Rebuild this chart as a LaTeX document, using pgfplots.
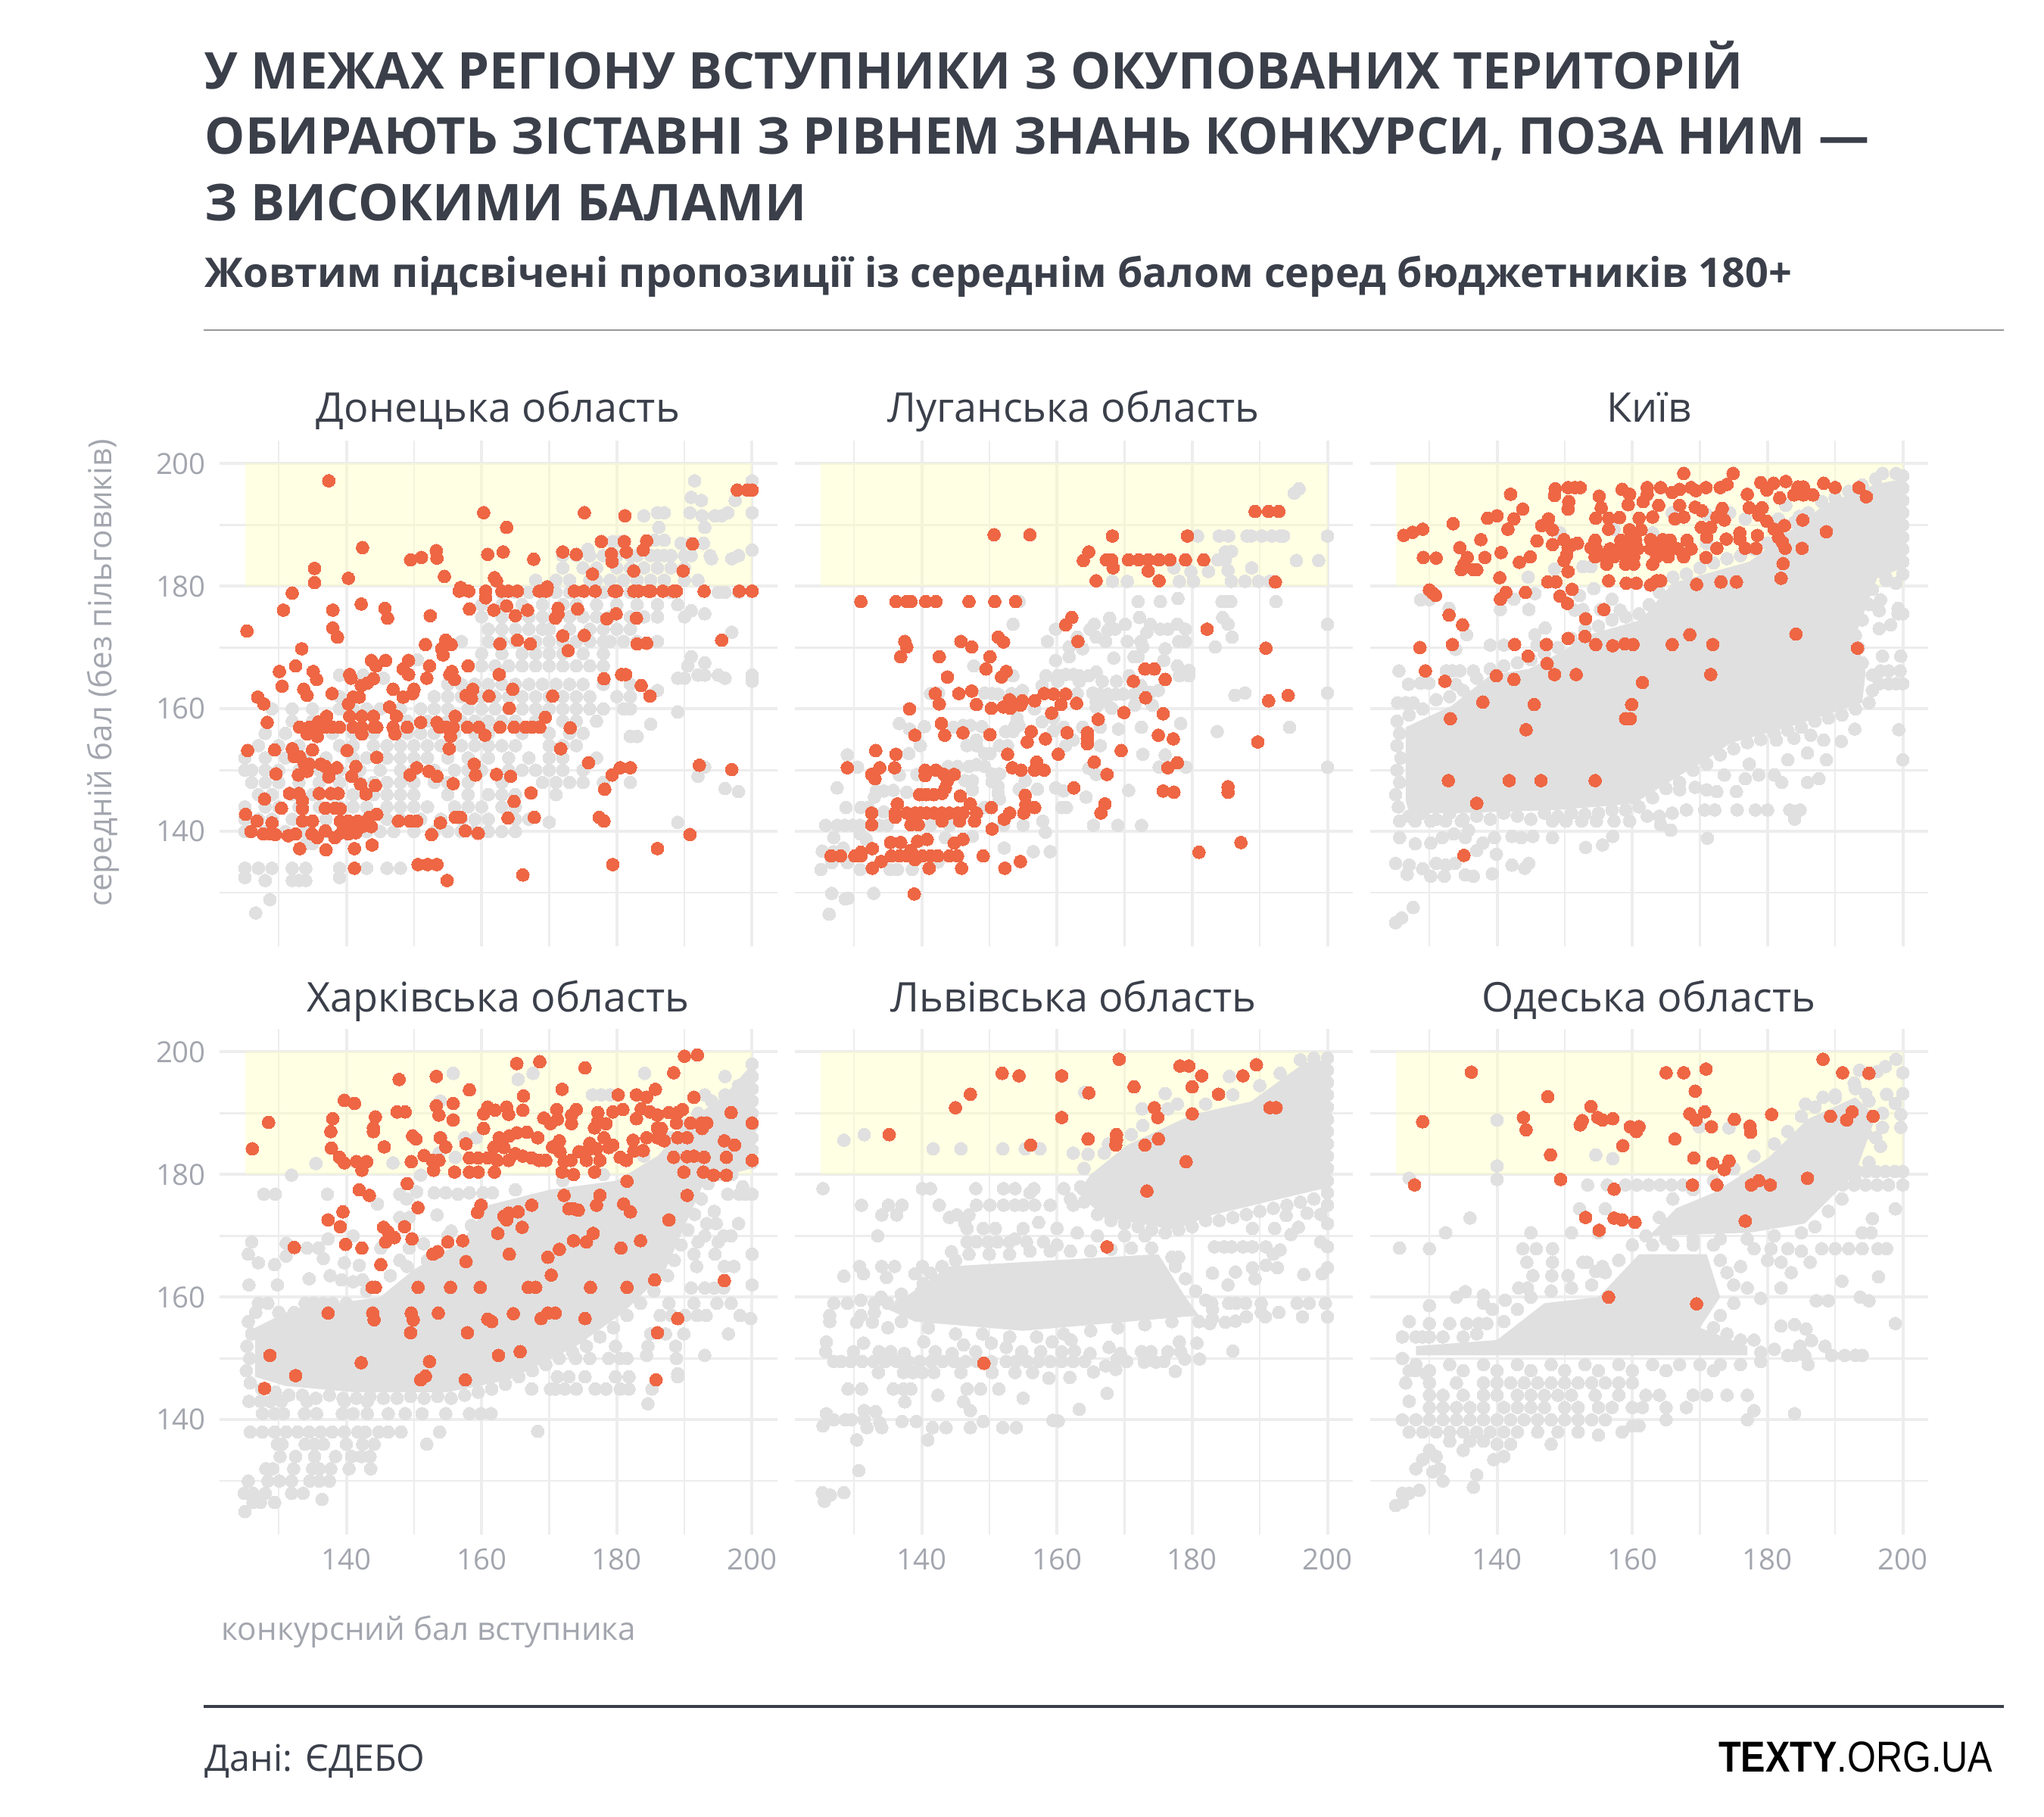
\documentclass[border=0pt]{standalone}
\usepackage{fontspec}
\usepackage{graphicx}
\usepackage{pgfplots}
\pgfplotsset{compat=1.18}
\setmainfont{Open Sans}
\newfontfamily\logofont{Liberation Sans}
\definecolor{ink}{HTML}{3A3F4A}
\definecolor{muted}{HTML}{A3A6AE}
\definecolor{gridc}{HTML}{EDEDED}
\definecolor{dotgray}{HTML}{E0E0E0}
\definecolor{dotred}{HTML}{EE6643}
\definecolor{hl}{HTML}{FFFFBE}
\pgfplotsset{panel/.style={
  scale only axis, width=184.25pt, height=167pt, anchor=south west,
  xmin=121.25, xmax=203.75, ymin=121.25, ymax=203.75,
  xtick={140,160,180,200}, ytick={140,160,180,200},
  minor xtick={130,150,170,190}, minor ytick={130,150,170,190},
  grid=both,
  major grid style={gridc, line width=1pt},
  minor grid style={gridc, line width=0.65pt},
  axis line style={draw=none}, tick style={draw=none},
  tick label style={font=\fontsize{9.6}{10}\selectfont, text=muted},
  /pgf/number format/assume math mode=true,
  /pgf/number format/1000 sep={},
  xticklabel style={yshift=-1pt},
  yticklabel style={xshift=-1pt},
  clip=false,
},
gdot/.style={only marks, color=dotgray, mark=*, mark size=2.1pt, mark options={fill=dotgray, draw=dotgray, line width=0pt}},
rdot/.style={only marks, color=dotred, mark=*, mark size=2.1pt, mark options={fill=dotred, draw=dotred, line width=0pt}},
core/.style={fill=dotgray, draw=none, forget plot},
}
\newcommand{\band}{\addplot[draw=none, fill=hl, fill opacity=0.41] coordinates {(125,180) (200,180) (200,200) (125,200)} --cycle;}
\begin{document}
\begin{tikzpicture}
\path[use as bounding box] (0,0) rectangle (675pt,-600pt);
% Донецька
\begin{axis}[panel, at={(72.5pt,-312.5pt)}, xticklabels={}]
\band
\addplot[gdot] table {
191.5 197.2
200 197.2
191 194.5
192.5 194
197.5 194
184 191.5
186 192
187 192
190.8 192
192.6 191.5
194.5 191.5
195.5 191.5
196.4 192
200 192
186.2 189.6
193 189.6
179.4 187.3
180.5 187.3
185.6 187.5
187 187.5
189.5 187
191 187
192.8 187
175.7 186
200 185.9
198 185
197 184.5
193.8 185
172 185
174 185
176 185
178 185
180 185
182 185
183 185
185 185
186 185
187 185
188 185
190 185
191 185
194 184.5
172 183
175 183
177 183
180 183
182 183
184 183
186 183
188 183
190 183
168 181
171 181
173 181
176 181
177 181
179 181
181 181
183 181
185 181
187 181
190 181
192 181
163 179
165 179
167 179
169 179
171 179
173 179
178 179
182 179
188 179
195 179
196 179
198 179
160 177
163 177
166 177
169 177
172 177
174 177
177 177
180 177
183 177
186 177
189 177
190 175
160 175
163 175
167 175
169 175
171 175
173 175
175 175
177 175
179 175
182 175
184 175
186 175
191 176
193 175.5
161 173
163 173
165 173
167 173
169 173
170 173
173 173
176 173
178 173
180 173
182 173
197 172.5
157 171
161 171
163 171
165 171
168 171
170 171
172 171
174 171
176 171
178 171
179 171
181 171
183 171
186 171
160 169
163 169
166 169
168 169
170 169
172 169
175 169
178 169
191 168.5
150.5 168
158 167
160 167
162 167
164 167
166 167
168 167
170 167
172 167
174 167
176 167
178 167
190.5 167
193 167.5
139 165.5
142.5 165.5
145.5 165
155 164
157 164
159 164
161 164
163 164
165 164
167 164
169 164
171 164
173 164
175 164
178 164
182 164
189 165
190 165
192 165.5
193 165.5
195 165.5
196 165
200 165.5
200 164.5
139 162
153 162
155 162
157 162
160 162
162 162
164 162
166 162
168 162
170 162
172 162
174 162
176 162
180 162
182 162
186 163
129 160
132 160
135 160
139 160
141 160
143 160
145 160
148 160
151 160
153 160
155 160
158 160
160 160
162 160
164 160
166 160
168 160
170 160
172 160
174 160
176 160
178 160
181 160
182 160
189 159.5
132 158
135 158
137 158
149 158
152 158
155 158
157 158
159 158
161 158
163 158
165 158
168 158
172 158
174 158
177 158
185 157.5
128 156
131 156
138 156
141 156
144 156
149 156
151 156
153 156
156 156
159 156
161 156
166 156
170 156
173 156
175 156
182 155.5
183 155.5
127 154
130 154
133 154
139 154
141 154
144 154
146 154
148 154
150 154
152 154
154 154
157 154
159 154
161 154
163 154
165 154
170 154
172 154
174 154
125 152
128 152
131 152
134 152
137 152
141 152
143 152
146 152
148 152
150 152
152 152
155 152
158 152
161 152
164 152
167 152
170 152
172 152
177 152
125 150
126 150
128 150
130 150
133 150
136 150
139 150
142 150
145 150
148 150
150 150
153 150
156 150
158 150
160 150
164 150
166 150
168 150
170 150
172 150
175 150
193 150.5
126 148
128 148
130 148
133 148
136 148
139 148
142 148
144 148
146 148
148 148
150 148
153 148
155 148
158 148
163 148
169 148
171 148
173 148
175 148
178 148
182 148
192 149
127 146
129 146
132 146
135 146
138 146
141 146
144 146
146 146
148 146
150 146
155 146
158 146
161 146
163 146
165 146
171 146
196 147
198 146.5
125 144
128 144
130 144
133 144
136 144
139 144
141 144
143 144
146 144
148 144
150 144
152 144
156 144
158 144
160 144
163 144
165 144
125 142
127 142
129 142
132 142
137 142
143 142
146 142
148 142
151 142
154 142
157 142
159 142
161 142
165 142
167 142
170 141.5
125 140
128 140
131 140
134 140
137 140
140 140
143 140
145 140
147 140
150 140
153 140
155 140
157 140
159 140
161 140
163 140
165 140
189 141.5
134 138
135 138
125 134
127 134
129 134
132 134
134 134
139 134
143 134
146 134
148 134
125 132.5
128 132
132 132
133 132
134 132
139 132.5
128.7 128.9
126.6 126.7
};
\addplot[rdot] table {
137.4 197.2
160.3 192
175.2 192
181.2 191.5
163.7 189.6
142.4 186.3
177.7 187.3
181.1 187.3
184.4 187.4
153.3 185.8
153.4 184.6
151.1 184.7
149.5 184.3
160.9 185.2
163.2 185.6
167.7 184.4
172 185.6
174 185.2
179.2 185.3
179.3 184
181.4 185.6
183.9 185.9
191.2 186.9
135.3 182.9
135.3 180.6
140.3 181.3
154.5 181.6
161.9 181.4
162.2 180.9
176.4 182
182.5 182.5
189.8 182.5
156.7 179.2
158.1 179.2
160.6 179.2
163 179.2
164 179.2
165.3 179.2
168.5 179.2
169.6 179.2
173.7 179.2
175.1 179.2
176.8 179.2
179.6 179.2
180 179.2
182.5 179.2
183.2 179.2
184.7 179.2
185 179.2
186.8 179.2
188.4 179.2
188.8 179.2
192.9 179.2
198.1 179.2
200 179.2
156.9 179.8
160.6 178.1
169.7 179.9
197.8 195.7
199.3 195.7
200 195.7
132 178.9
130.7 176.1
138 176.1
142.2 177.1
145.7 176.4
146.1 174.8
152.4 175.2
158.2 176.3
161.8 176.1
163.7 176.8
165 175.2
166.8 176.1
171.3 176.4
171.3 175.5
170.9 174.8
174.2 176.3
178.5 174.7
179.9 175.5
182.9 174.8
125.3 172.7
138 173.2
138.7 171.7
172 171.9
175.2 172
195.5 171.2
151.7 170.5
154.7 171.2
155.5 170.5
154.1 169.8
154.3 168.8
162.7 170.6
165.3 171.2
167.2 170.6
183 170.6
184.4 170.7
133.4 169.8
172.8 169.5
143.7 167.9
145.8 167.9
144.4 167
132.5 167
149.2 167.9
148.4 166.5
149.2 165.6
152.3 167
158 167
130.1 166.1
135.1 166.1
135.6 164.8
140.5 165.6
140.7 165
151.9 165
155.3 165.6
155.6 166.1
156 164.8
162.6 165.6
178.1 164.9
180.7 165.6
181.3 165.6
183.6 163.8
130.5 163.7
144 164.9
142.2 163.8
143.1 164.2
133.7 163.2
134.2 162.2
146.9 163.2
150 163.2
149.8 162.5
148.4 161.9
158.7 163.2
157.7 162.2
158.5 161.7
161.1 162.1
164.6 163.2
170.5 162.1
184.9 162.1
126.9 161.9
127.8 160.8
137.9 162.5
141 161.9
141.9 161.9
140.3 160.8
146.4 160.3
164.1 160.1
128.3 157.8
137.1 158.8
135.9 157.9
140.5 158.8
142.3 158.8
144 158.8
147.4 158.8
156.1 158.8
169.4 158.6
133.1 157
134.5 157
135.9 157
136.9 157
137.9 157
139 157
141 157
142.3 157
144.1 157
144.5 157
146.9 157
149 157
151 157.8
153.4 157.8
153.8 157
154.8 157
155.8 157
157.9 157
159.6 157
162.7 157
164.8 157
166.5 157
167.5 157
168.6 157
173.1 156.9
134.2 155.9
135.7 155.5
142.3 155.9
147.2 155.9
155.4 155.5
160.5 155.7
125.4 153.2
129.4 153.3
132 153.5
135 153.3
140.1 153.2
155.2 153.5
171.7 153.5
132.3 152.2
133.1 152.2
144.5 152.1
133.8 151
134.5 151
136.2 151
136.9 150.6
138.6 150.4
141.4 150.6
158.9 151
175.8 151.2
150.4 150.4
180.5 150.4
182 150.4
192.2 150.8
197 150.1
134.2 149.8
132.9 149.2
129.6 149.4
137.4 148.9
140.8 149
149.4 149.2
152.2 149.8
153.4 149
159.1 149.2
162.2 149.3
164.3 149
179.3 149.2
142.1 147.7
144.3 147.5
155.8 147.8
178.2 146.9
131.6 146.2
133 146.2
136 146.2
137.7 146.2
138.8 146.2
142.9 146.1
167.3 146.3
127.9 145.3
133.5 145
164.8 144.9
130.4 143.8
133.5 143.7
136.9 143.8
138.3 143.8
139.1 143.7
125.1 142.8
144.5 142.8
143.4 142.3
126.8 141.7
129 141.4
133.5 141.7
135 141.7
139.1 141.7
140.3 141.7
141.7 141.7
147.7 141.7
149.4 141.7
150.4 141.7
153.9 141.4
156.1 142.3
156.9 142.3
163.9 142.2
167.8 142.3
177.4 142.3
178.1 141.7
143.7 140.8
125.9 140
127.7 139.6
128.7 139.6
129.5 139.5
131.4 139.3
132.5 139.6
134.9 139.6
135.7 139
136.9 140.1
138.3 139
139.3 139.8
140.3 139.6
141.4 139.8
140.7 140.8
142.4 140.8
152.6 139.5
157.6 140.1
159.5 139.7
190.8 139.5
133.1 137.2
137 137
141.2 137.2
143.8 137.8
186 137.2
141.2 134
150.6 134.6
152 134.6
153.4 134.6
179.4 134.6
166.1 132.9
154.9 132
};
\end{axis}
% Луганська
\begin{axis}[panel, at={(262.5pt,-312.5pt)}, xticklabels={}, yticklabels={}]
\band
\addplot[gdot] table {
195.8 195.9
195.1 195.2
180.8 188.2
184 188.2
185.4 188.2
188.1 188.2
188.7 188.2
190.3 188.2
191.8 188.2
193 188.2
193.5 188.2
200 188.2
185.8 185.7
184.9 185.6
183.8 184.3
184.9 184.3
195.4 184.2
198.7 184.2
177.3 183
179.8 182.4
182.4 182.4
185.3 182.6
188.8 183
168.2 180.8
170.4 180.8
178.1 180.8
180.2 180.8
185.8 180.8
187.8 180.8
189.8 180.8
191.5 180.8
154.4 177.5
172 177.5
175.3 177.5
177.9 178
184.4 177.5
185.3 177.5
185.7 177.5
192.4 177.5
153.5 173.8
200 173.8
167.8 174.8
172.2 174.9
184.5 174.9
185.3 173.8
170.1 173.8
165.5 173.8
159.8 173
164.9 173
167.5 172.8
168.6 173
173.3 172.5
173.8 173.8
175.3 173
176.4 173
177.8 173.8
179 173
185.9 171.7
165.8 171.7
167.2 171
170.4 171
172.4 171
178 171
179 171
158.6 171
163 171.7
161.8 170.1
163.8 169.8
172.7 170.1
176 169.8
183.4 170.1
161.8 168.5
159.8 167.9
168.4 168.3
171.4 168.5
172 168.5
175.8 167.9
147.7 167
177.8 167
179.5 166.3
153.5 165.4
158.4 165.4
160.1 165.4
161.3 165.6
162.4 165.6
163.3 165.4
164.7 165.4
165.8 166
178.1 165.4
179.5 165.4
170.7 165.4
160.1 164.5
163.3 164.5
166.7 164.5
168.8 164.5
172.4 163.8
175 163
173.8 162.7
141.3 162.5
142.5 162.6
149.3 162.6
150.4 162.5
151.3 162.4
153.3 162.5
154.9 163
157.8 163.8
163 162.5
165.3 162.6
166.4 162.4
167.5 162.4
168.7 162.4
169.8 162.4
171.4 162.4
186.3 162.2
187.8 162.6
200 162.6
165.8 161.2
167.3 161.2
156.7 160
165.8 160.3
168.1 160.1
171.5 160.6
174.1 160.6
154.1 158.5
157.8 157.9
159.5 158.5
153.8 157.3
154.4 157.3
136.7 157.6
140.4 157.1
138.2 156.7
144.7 157
146.1 157.3
147.2 157.3
148.9 157.1
178.3 157.6
183.7 156.3
194.4 157
172.5 157
169.1 156.7
166.4 157
163.8 157
161 157
159.5 156.4
152.4 156.3
153.5 156.3
148.1 154.9
139.8 154
146.7 154
148.1 154
151.5 154
152.7 154
161.3 154
162.4 154.9
166.4 154
149.3 152.7
150.1 152.7
138.1 152.7
129 152.5
172.7 152.6
176 152.5
130.5 150.5
136.7 149.2
139.3 149.3
143.9 150.6
145.3 150.6
147 150.6
148.1 150.9
149.3 150.6
150.4 149.4
151.5 149.4
164.7 150.3
165.8 149.3
175.1 150.5
179.1 150.5
200 150.5
146.4 148.3
147.5 148.3
150.4 148.1
151.3 147.4
155.3 148.3
127.5 147.1
133.3 146.6
134.4 146.6
135.8 146.7
137.8 146.4
147.5 146.8
151.3 146.2
154.4 146.9
157.1 146.9
159.8 147.1
161 146.6
170.6 146.7
164.3 145.6
133 145.6
151.5 145.3
128.8 143.9
131 143.9
132.1 143.9
149.3 143.9
160.7 143.9
161.4 143.9
134.4 143.2
125.8 141
127.5 141
128.6 141
129.8 141
130.9 141
133.8 141
134.9 141
141.3 141
144.1 141
152.1 141
155 141
157.9 141.7
165.4 141
169 141
172.5 141
130.9 139.6
131.8 138.7
127 139
147.5 139.2
143.5 139
158.3 139.9
125.3 136.8
127 136.7
128.4 137.3
152.2 137.3
156.5 136.7
159 136.7
125.1 133.8
126.7 134.9
129 134.9
130.9 133.8
135.3 133.8
136.4 133.8
138.6 133.8
142.4 135
126.7 129.9
128.7 129
129.1 129.1
132.9 129.9
126.3 126.5
};
\addplot[rdot] table {
189.3 192.2
191.3 192.2
192.8 192.2
150.7 188.4
156 188.4
168.2 188.2
179.3 188.2
164.7 185.6
163.9 184.2
167.3 184.3
168.1 184.3
168.3 183
170.6 184.3
172.1 184.3
173.5 184.3
175.1 184.3
176.7 184.3
179 184.3
181.7 184.3
173.5 182.5
165.8 180.9
175.1 180.9
192.3 180.7
131 177.5
136.2 177.5
137.8 177.5
138.4 177.5
140.6 177.5
142.1 177.5
147 177.5
150.8 177.5
153.9 177.5
162.2 174.9
161.3 173.7
182.2 173
137.5 171
137.8 170.1
136.9 168.5
145.8 171
147.4 170.1
151.3 171.7
152.1 170.9
163.1 171
190.9 169.9
142.6 168.5
150.1 168.5
149.5 166.5
152.5 166.1
151.8 165.2
143.8 165.2
173 166.5
174.4 166.5
176 164.8
171.3 164.5
142 162.5
145.5 162.5
147.4 162.9
158.1 162.5
159.5 162.4
161.3 162.4
153 161.5
154.9 161.3
156.7 161.3
173.1 161.8
194.2 162.2
191.3 161.3
142.6 160.8
148.1 160.7
150.3 160.1
152.1 160.3
153.1 160.1
154.6 160.6
160.6 160.7
162.9 160.9
138.2 160
159.2 159.3
169.9 159.4
175.7 159.2
166.1 158.3
142.9 157.6
139 155.7
143.4 155.7
146.1 156.1
150.1 155.8
156.2 156.3
161.5 156.1
164.5 156.1
164.5 155.2
164.5 154.3
155.6 154.6
158.3 155.1
175 155.7
177.2 155.1
189.7 154.6
133.2 153.2
136.2 152.6
152.7 152.6
160.2 152.6
169.5 153.2
129 150.4
133.8 150.4
136 150.4
165.5 151.3
177.8 151.2
176.4 150.4
153.4 150.4
154.7 150
157 151.3
156.7 150
158.1 150
132.6 149.3
133.1 148.6
140.5 150
142.1 150
140.5 149.1
143.3 149.3
144.8 149.3
143.8 148.3
167.4 149.3
143.5 147.1
162.5 147.1
175.7 146.6
177.3 146.4
185.3 147.3
185.3 146.4
139.7 146
140.7 146
141.8 146
143 146.2
145.7 145.8
155.3 145.9
136.4 144.5
147.2 144.5
155.4 144.4
167.1 144.5
156.7 143.9
150.3 143.9
132.6 143
136.1 143
137.8 143
139 143
139.8 143
140.7 143
141.8 143
143 143
144.1 143
145.3 143
146.1 143
148.1 143
153 143
155.1 143
166.5 143
132.6 141.1
136.1 142.3
138.4 141.1
139.5 141.1
143 141.7
145.6 141.7
147.8 141.7
152.2 142
150.4 140.4
140.8 138.7
139.4 138.4
135.4 138.2
136.9 138.2
144.8 138.1
146.1 138.7
187.2 138.2
181 136.6
132.7 137.2
131 136.6
138.4 136.9
126.6 136
128 136
130.1 136
131 136
135.5 136
136.7 136
137.8 136
139 136
140.1 136
141.3 136
142.4 136
144.1 136
145.3 136
149.1 136
134 135.1
154.6 135.1
132.7 134
141.1 134
145.9 134
152.3 134
139 135.4
138.9 129.8
};
\end{axis}
% Київ
\begin{axis}[panel, at={(452.5pt,-312.5pt)}, xticklabels={}, yticklabels={}]
\band
\addplot[core] coordinates {(126.5,145) (126.5,157) (133.3,160.5) (139,165.5) (144.7,166.5) (149.9,169.5) (153.3,172) (161.3,174.5) (165.9,180.5) (177.3,184) (188.7,193.5) (196.2,196.7) (200,197.5) (200,183) (196.2,181.3) (193,172) (194.5,166) (194,161) (188.7,159) (183,157) (174.5,154.4) (170.5,151.4) (165.9,148.4) (160.2,144.5) (148.7,143.5) (134.5,143) (127,143)} --cycle;
\addplot[gdot] table {
125.4 144
125 146
125.6 148
125.2 150
125.8 152
125.2 154
125.6 156
125.2 158
127 159
129 160
131 161.5
133 162
135 163
137 165
139 166.5
141 167
143 167.5
145 168
147 169
149 170
151 171.5
153 173
155 173.5
157 174.5
159 175
161 175.5
162.5 177
164 179
166 181.5
168 182
170 183
172 183.8
174 184.5
176 185
178 186
180 187
182 189
184 190.5
186 192
188 193.8
190 194.5
192 195.5
194 196.5
196 197.5
127 142.5
129 143
131 142
133 143
135 142
137 142.5
139 142
141 143
143 142.5
145 142
147 143
149 142.5
151 143
153 142.8
155 143
157 143.5
159 143.5
161 144
163 145.5
165 147
167 148
169 150
171 151
173 152.5
175 153.5
177 154.5
179 155
181 156
183 156.5
185 157
187 158
189 158.5
191 159
193 160
195 161
195.5 163
195.5 165.5
194 167.5
193.5 170
193 172
194 174.5
195 177
195.5 179.5
197.5 181.5
200 198
200 196
200 194
200 192
200 190
200 188
200 186
200 184
200 182
199 180.5
197.5 181
197 198.4
199 198.4
184.7 191.4
182.7 193.2
181.6 191
176.7 191
174.4 192
171 191.7
171 187
165.9 192
163 188.7
157.3 189.3
153.9 183.2
152.7 183.2
149.3 188.7
148.5 182.8
144.6 181.5
145.6 178.8
154.3 179.6
152.2 178.5
142.5 177.9
140.5 176.2
144.7 176.2
128.7 177.8
130 177.8
132.9 176.4
157 177.9
151.5 176.1
152.7 176.2
155.3 176.2
158.2 176.1
135.5 172.1
145.6 172.1
147.1 173.2
133.9 169.7
139 170.4
141 170.4
145.9 170.4
125.5 166.2
132.5 166.2
133.4 166.2
134.5 166.2
136.5 166.2
126.9 164
128.7 164.2
129.9 164.2
133.9 164
125.3 161
126.5 161
127.6 161
125.6 141.7
127.9 141.7
130.2 141.7
132.4 141.7
134.7 141.7
148.2 141.7
150.2 141.7
152.5 141.7
154.7 141.7
157.3 141.7
159.6 141.7
162.2 142.5
164 142.5
165.9 143
168 143.5
170.7 143.5
172.2 143.5
175.5 143.5
178.2 143.5
180 143.5
183.3 143.5
184.8 143.5
184 142
164.2 141.1
165.7 140.2
171.1 138.9
157.1 139.2
155.6 137.8
153.1 137.4
148.2 139
142.2 139.2
143.6 139
145.3 139.2
139.6 139
135.8 140.2
135.3 139
125.6 139
127.9 138
130.2 138.1
131.9 139
133.6 139.6
137.9 138.1
137 136.9
139.9 136.3
125 134.8
127 134.5
129 133.9
131 134.8
132.4 134.5
133.8 134.8
126.7 133
130.2 132.7
132.2 132.7
135.3 132.9
136.5 132.7
139.3 133.1
142.2 134.5
144.7 134.8
144.1 134
127.6 127.6
125.9 125.9
125 125.1
167 146.8
169.3 147.2
171 146.8
172.5 146.5
175.4 146.5
178.7 149.2
181 149.2
182.1 148
173.6 149.2
176.7 148.6
185.9 148
187.6 148.6
177.3 151
183 151.7
185.9 152.8
188.7 151.7
200 151.7
199.4 156.6
190.9 154.7
188.3 154.9
181.3 154.9
183.9 155.2
186.4 155.7
192.9 156.7
196.5 164.1
197.9 164.1
199 164.1
200 164.1
196.7 166.2
197.9 166.2
199.6 166.2
197 168.6
199.7 168.6
196.5 173.1
198.2 173.7
196.5 176
196.7 177.8
199.3 175.5
200 175.5
199.3 176.4
};
\addplot[rdot] table {
167.6 198.4
174.9 198.4
142 195
148.6 195.9
148.5 194.8
150.5 196.1
151.5 196.1
152.3 196.1
150.6 193.8
150.5 192.6
155.1 194.7
155.4 192.8
158.5 195.8
159.6 195
159.4 193.3
162.2 196.1
164.2 196.1
161.6 193.8
162.2 195
165.9 195.3
167 195.8
168.7 196.1
169.4 195.6
170.9 196.1
173 196.1
174 196.6
177 195
179 196.9
179.9 195.7
180.9 196.8
182.7 197.1
184.5 196.2
185.3 196.2
181.8 194.4
183.9 194.9
185.3 194.9
186.7 194.9
188.3 196.8
190 196.1
193.5 196.1
194.6 194.6
163.9 193.2
167 193.2
169.3 192.9
170.3 192.3
173.3 192.7
177.3 192.8
179.2 192.8
178.7 191.6
179.9 190.6
143.8 192.6
138.6 191.1
140 191.5
142.5 191
133.5 190.2
147.6 191
146.6 189.9
154.6 191.1
156.5 191.1
158.1 191.2
161 191.1
163 191.3
166.3 191
167.6 191.3
172.5 191.3
173.6 190.8
185.2 190.8
182.5 189.9
126.2 188.3
127.5 188.8
129 189.3
141.6 189.3
148.2 189.2
156.5 189.3
159.6 189.2
161.3 189.2
170.2 189.6
171.6 189.6
181 189.3
188.7 188.9
178.5 188.3
175.9 188.7
137.6 187.6
145.9 187.4
149.9 187.6
154.5 187.5
148.2 186.8
162.7 187.6
164.5 187.6
165.6 187.5
168.1 187.5
158.3 187.5
159.6 187.8
160.5 187.5
171 188
173.9 187.7
175.9 187.7
181.6 188
182.2 187.2
134.5 186.3
140.6 185.5
151 186.7
151.9 187
150.5 186.3
153.9 186.3
154.7 186.1
156.7 186.1
157.9 186.1
159.6 186.1
160.8 186.1
162.7 186.1
163.9 186.1
165.3 186.1
166.7 186.1
168.7 186.1
172.5 186.2
176.7 186.2
178.3 186.2
182.6 186.2
185.1 186.2
129.1 184.7
131 184.6
138.2 184.7
144.9 184.8
135.6 184.7
143.3 183.9
150.3 185.1
149.9 184.2
154.5 184.8
155.9 184.8
157.3 184.8
159 184.8
160.2 184.8
163.6 184.8
165.3 184.8
167.6 184.8
170.9 184.7
182.3 183.7
156.2 183.6
159 183.6
160.2 183.6
163 183.6
135.1 183.6
134.7 182.7
136.5 182.7
137 182.7
150.5 182.4
140.4 181.4
182 181.3
156.5 180.9
147.5 180.7
148.7 180.7
159.1 180.5
160.6 180.5
162.7 180.2
163.6 180.9
164.2 180.9
169.5 180.3
173.1 180.7
175.4 180.7
151.1 179.5
130 179.4
130.5 178.9
130.9 178.5
141.3 179
140.5 177.9
144.2 179
149.3 178.4
150.4 177.2
155.8 176.2
132.9 175.3
153.1 174.7
134.9 173.7
153 171.8
150.5 171.5
168.5 172.1
184.2 172.2
128.6 170
133.4 170.5
142.6 170.5
147.3 170.5
154.6 170.5
157.1 170.3
158.9 170.6
160.1 170.5
165.9 170.5
171.9 170.5
193.3 169.9
144.6 168.6
147.4 167.4
129.4 166.2
148.5 165.6
151.7 165.6
139.9 165.4
142.5 164.8
132.3 164.5
171.6 165.6
161.5 164.3
137.9 161.1
145.5 160.7
159.9 160.7
133.1 158.4
159 158.4
159.7 158.4
144.3 156.6
132.8 148.3
141.8 148.3
146.5 148.3
154.5 148.3
137 144.6
135.1 136.1
};
\end{axis}
% Харківська
\begin{axis}[panel, at={(72.5pt,-506.75pt)}]
\band
\addplot[core] coordinates {(126.5,147) (126.5,155) (132,158) (145,160) (150,164.5) (157,169) (161,175) (170,177.5) (180,179) (186,183) (191,189) (196,193) (200,198) (200,181) (193,179) (189,169) (187,164) (181,157.5) (174,152) (164,146.5) (155,144.5) (141,144.5) (131,145.5)} --cycle;
\addplot[gdot] table {
155.8 196.5
165.4 195.5
167.6 196.5
184.1 196.5
153.9 192
176.4 193
177.7 193
179 193
154 186
153.7 183.5
157.5 186
159.2 186
156.1 182.8
135.5 181.8
146.9 181.9
131.9 179.9
151 179.9
127.8 176.8
129.5 176.8
137.2 176.8
144.6 175.2
147.9 176.8
148.9 176
150.4 177.2
153 177
154.7 177
156.5 176.8
158.2 177
160.2 177
161.6 177
147.9 173
149.3 173
153.4 173.4
158.5 171.7
141 170
137.3 169.5
126 169
125.5 167
127 165.6
131.1 168.8
131.1 166.7
129.4 165.3
134.2 168
135.9 168
136.6 166.3
139.7 165.6
141.9 165.2
145.1 168
147.9 166
149.3 168
151.4 168.7
155.5 170.8
152 166
152 164.5
146.5 163.5
125.6 162
129.8 162
134.5 163
137.6 163.5
139.3 162.8
141 162.5
142.4 162.8
127 159
128.4 159
133.9 159
135.3 159
136.6 159
138 159
140 159
126.6 157.5
130 157.5
132.3 157.5
134 157.5
125.5 156
126 154
125.3 152
125.7 150
125.2 148
125.8 146
127.5 145
129.5 144.5
131.5 144
133.5 144
135.5 143.5
137.5 144
139.5 143.5
141.5 143.5
143.5 143.8
145.5 143.5
147.5 143.5
149.5 143.8
151.5 143.5
153.5 143.8
155.5 143.5
157.5 144
159.5 144.5
161.5 145
163.5 145.8
165.5 147
167.5 148
169.5 149
171.5 150
173.5 151
175.5 152
177.5 153.5
179.5 155
181.5 157
183.5 159
185.5 161
187.5 163.5
188.5 166
189.5 168.5
190.5 171
191.5 173.5
192.5 176
193.5 178.5
195 180
198 194.5
196 193
194 192
192 190
190 188
196 196
193 193
188 186
184 183
178 180
172 179
165 177.5
160 175
155 170
149 165
143 161
135 159
200 198
200 196
200 194
200 192
200 190
200 188
200 186
200 184
200 182
198 182
197 180
125.6 143
127.3 143
128.7 143
130.4 143
134.2 143
139.7 143
143.1 143
127.6 141
129.4 141
130.7 141
133.8 141
135.6 141
139.4 141
141 141
143.1 141
146.2 141
148.7 141
151.2 141
125.8 138
127.6 138
129.4 138
131.1 138
132.8 138
134.5 138
136.2 138
137.9 138
139.7 138
141.7 138
142.8 138
144.8 138
146.2 138
148.1 138
153.8 138
129.8 136
130.5 136
133.9 136
135.3 136
136.6 136
140 136
142.4 136
144.1 136
151.9 136
130.2 134
132.5 134
135.3 134
138.4 134
140.8 134
142.2 134
143.5 134
128.1 132
129.1 132
132.2 132
135 132
136 132
137.7 132
143.6 132
140.4 132
125.5 130
128.4 130
130.1 130
131.9 130
134.6 130
136 130
137.5 130
124.9 128
126.2 128
128 128
131.9 128
133.6 128
136.4 127
126.2 126.5
127.3 126.5
129.4 126.5
125 125
168.3 138.1
154.7 141
158.2 141
159.9 141
161.4 141
184.6 142.6
185.2 145
189 147
193 150.5
184.4 150.5
167.4 145
170.2 145
170.9 145
172.3 145
174 145
176.8 145
178.4 145
180.5 145
181.8 145
171.2 147
172.9 147
175.3 147
179.8 147
181.8 147
189 147.5
173.9 150
176 150
178.8 150
180.5 150
181.5 150
188.8 150
179.8 152
184.6 152
188.7 152
185 154
187.2 154
189.9 154
196.5 154
186.4 157
188.1 157
190.1 157
191.9 157
193.2 157
198.2 157
199.8 156.5
187.7 159
191.4 159
194.8 159
196.9 159
191 161.5
193 161.5
194.4 161.5
195.8 161.5
200 162
191.8 165
195.9 165
197.3 165
191.4 167
194.5 167
200 167
192 169
195 169
193 170
195.8 170
196.9 170
193.3 172
194.7 172
198 172
194.4 174
196.4 176.8
198.1 176.8
199 176.8
199.9 176.8
200 176.8
198.6 178
};
\addplot[rdot] table {
190 199.3
191.9 199.5
165.2 198.1
168.6 198.4
175.3 197.4
188.4 196.6
153.3 196
147.8 195.5
158.2 193.8
171.9 193.9
185.7 193.9
139.7 192.1
141.2 191.6
166.2 192.8
180.2 193
182.9 193
184.4 192.6
191.4 192.6
155.8 191.6
153.3 191.2
153.7 189.7
155.8 188.9
147.5 190.2
148.7 190.2
160.9 191
162 190.5
163.7 191
164 189.8
166.1 190.5
160.3 189.9
160.3 187.5
171.1 190.6
171.2 189
169.2 189.2
170.2 188.3
174 190.6
173.3 189.7
173.3 188.3
177.2 190.1
177.2 188.7
178.4 188.3
176.7 187.6
179.4 190.2
180.9 190.6
183.6 190.7
184.9 190.2
186 189.7
182.9 189.1
187.7 190.1
189.7 190.6
189 190.1
196.9 190.1
200 188.4
188.8 188.4
190.9 188.4
192.5 188.4
193.3 188.4
192.6 187.5
186 187.6
186.6 187.5
138 189.1
137.7 187
128.5 188.5
144.3 189.4
144 187.6
144 187
149.8 186.3
150.3 185.8
153.9 186
157.7 185
162.6 186
164.1 186.3
165.2 186.8
166.7 186.9
168.3 186
171.5 185.5
176 185.1
178.1 186
179.4 184.8
182.4 185.6
184.4 186
186 186
187 185.5
189 186
190.4 186
195.9 185.5
197.4 184.8
126.1 184.2
137.8 184.3
145.6 184.5
154.7 184.5
161.8 184.4
163.3 184.4
170.5 184.5
171.6 183.7
174.4 183.7
175.7 184
177 184.2
178.8 184.4
182.5 183.8
183.9 183.9
151.5 183.1
139 182.8
139.7 181.9
141.5 182.1
143 182.1
142.3 180.7
149.6 182.1
152.7 182.3
153.7 182.3
158.2 182.7
159.5 182.7
160.9 182.7
162.3 182.3
164 182.3
165 183.4
166.1 183
167.4 182.7
168.5 182.3
169.5 182.3
172.2 182.1
173.2 182.3
175.5 182.3
177.5 182.3
180.5 182.8
181.4 182.3
188.4 182.8
190.4 182.9
191.4 183
192.9 182.8
196.2 182.8
200 182.3
152.9 180.7
156 180.4
158.2 180.4
159.5 180.4
161.9 180.4
171.9 180.4
173.6 180
176.7 180.4
189.9 180.4
192.8 180.4
194.3 179.9
196.2 179.9
149 178.5
181.5 178.9
141.9 177.5
143.4 176.6
172.2 176.6
177.5 176.6
190.4 176.6
150.6 174.6
139.5 173.9
159.9 175
159.4 173.8
167.4 175
172.9 174.4
173.6 174.4
174.3 174.2
177 175
181 175.2
182 173.9
163.3 173.2
164 173.7
165.4 173.9
163.7 172.6
137.3 172.6
187.7 172.6
139.1 171.5
145.5 171.4
148.6 171.5
166 171.4
146.2 170.6
147.1 169.7
145.8 169
162.4 170.4
176.5 170.4
149.7 169.5
155 169
157.2 169.2
173.6 169.2
175.5 169
183.5 169.2
139.9 168.6
132.3 168.1
142.3 168
171.5 167.8
180.6 168
152.8 167
153.5 167.4
164.1 167
169.8 166.5
157.7 165.8
145.1 165.3
170.3 163.6
185.6 162.8
195.9 162.7
143.8 161.6
144.3 161.6
150.6 161.6
155.4 161.6
159.8 161.6
166.9 161.6
168 161.6
176.1 161.6
181.5 161.6
137.3 157.4
143.9 157.4
144.1 156.3
149.6 157.4
149.9 156.3
153.6 157.4
164.7 157.3
160.9 156.4
161.5 156
169.8 157.4
170.9 157.4
168.8 156.5
175.3 156.5
189 156.5
149.5 154.2
157.9 154.2
186 154.2
128.7 150.5
162.5 150.5
165.7 151.1
142.2 149.3
152.3 149.5
132.5 147.2
151 146.5
151.7 147.1
157.6 146.5
185.8 146.5
127.9 145.1
};
\end{axis}
% Львівська
\begin{axis}[panel, at={(262.5pt,-506.75pt)}, yticklabels={}]
\band
\addplot[core] coordinates {(165,180) (170.4,184.8) (180.1,189.8) (188.7,191.9) (196.7,198.3) (200,198.6) (200,177) (199,177.6) (183,173.4) (177.3,171) (167,173) (163,177)} --cycle;
\addplot[core] coordinates {(144,165) (175,167) (179,160) (181,157) (155,154.5) (139,156) (135,158)} --cycle;
\addplot[gdot] table {
128.5 185.6
131.5 186.5
141.7 184.2
145.8 184.2
152 184.2
155.3 184.2
157.5 184.2
162.4 183.5
164.6 183.3
164.1 193.4
176 193.2
185.5 196
172.6 190.7
176.4 190.7
177.8 191.5
172.7 188
171 186.5
167.6 185
167 183.5
182 191.5
186 193
190 194.5
193 196.5
196 198.7
198 199
200 199
200 197
200 195
200 193
200 191
200 189
200 187
200 185
200 183
200 181
200 179
200 177
200 175
199 173.5
164 181
165.5 179
163.5 178
162 176
164 175.5
166 173.5
168 172.5
170 172
172 171.5
174 171
176 170.5
178 171
180 171.5
182 172.5
184 172.5
186 173
188 173.5
190 174
192 174.5
194 175
196 175.5
198 176
125.4 177.7
140.1 177.7
141.3 177.7
148 177.7
152.1 177.7
153.8 177.7
156.6 177.7
156 177
161 177.7
131.1 175
135.1 175
137.1 175
142.6 175
148.1 175
150.1 175
152.1 175
153.8 175
155 175
156.7 175
159 175
162.4 175
134.1 173.4
136.3 173.4
144.1 173
145.2 173.4
147 173.4
133.5 170
146.4 172
146.7 171.2
149.1 171.2
150.9 171.2
155 171.2
157.3 172.2
160 171.2
163 170.5
166 170
170 170
173 170
146.7 169
148.1 169
149.8 169
151.2 169
153 169
153.8 169.5
155.5 169
158 169
160 168.5
144.4 167.4
147 167
150 167
153 167
156 167.5
159 167.5
162 167.5
165 167.5
168 167.8
171 168
174 168
177 166.5
130.8 165
134.1 165
136 165
143 165
131.4 163.8
134.8 163.2
128.5 163.4
139 163.8
140.1 165
141.3 163.9
140.2 162.2
143.3 163.2
145 166
178 166.5
140 161
137 160.5
134 160
127 159
129 159
131 159.5
133 159
135 159
137 159
177.5 165
179 163
180.5 161
182 159.5
183 158
183 156.5
181 156
177 156
173 155.5
169 155
165 154.5
161 154
157 153.5
153 153.5
149 154
145 154
141 155
137 156
131 157
133 157.5
126.4 157
130.4 155.9
132.7 155.9
135 155
126.4 156
125.9 152.7
125.8 151.1
129.9 151.1
131.4 152.5
133.7 151.1
135.4 151.1
137.4 150.8
140.3 152.7
142 151.1
144.5 150.8
146.2 152.2
148 151.1
150.3 152.5
152.5 151.8
154.8 151.1
157.6 151.1
159.3 152.7
160.7 151.1
162.6 151.2
164.9 150.8
167.7 151.8
169.4 150.8
172.5 151.1
173.9 151.1
176.4 151.1
178.1 152.7
178.3 151.1
180.7 152.5
186 151.2
162.1 153
127 149.5
128.1 149.5
129.5 149.5
131.2 149.5
132.9 149.5
134.6 149.5
136.3 149.5
138 149.5
139.7 149.5
141.4 149.5
143.1 149.5
144.8 149.5
146.5 149.5
148.2 149.5
150.3 149.5
152.5 149.5
153.9 149.5
155.6 149.5
157.3 149.5
159 149.5
160.7 149.5
162.4 149.5
164.1 149.5
167.2 148.8
168.9 149.9
170.3 149.5
172.9 149.4
174.6 149.4
175.8 149.5
178.9 149.9
181.1 149.9
133.6 147.7
137.3 147.7
138.7 147.7
140.1 147.7
141.8 147.7
145.8 147.7
150.4 147.7
153.8 147.7
156.4 147.7
158.8 146.8
161.9 146.9
165.4 147.8
168.7 148.2
177.5 147.9
129.1 145
131.1 145
135.8 145
137.3 145
138.4 145
137.5 142.9
142.4 144
146.7 145
148.7 145
151.4 145
155 143.5
146.2 142.9
147.2 141.5
167.4 144.3
163.3 141.7
125.9 141
125.4 139
127 140
128.7 140
129.6 140
131.5 141.5
133.2 141.3
131.5 140
133.8 139.5
134.1 138.7
131.9 138.7
137.1 139.7
139.2 139.7
141.6 138.7
143.6 138.7
147.2 138.7
149.1 139.7
152 138.7
154 138.7
159.4 139.9
160.2 139.8
130.4 136.7
140.9 136.7
130.7 131.7
125.3 128.1
126.5 127.7
125.6 126.7
128.5 128.1
182.9 159
185.4 159
186.5 159
187.9 159
190.2 159
195.5 159
197.3 159
199.7 159
188 156.8
184.9 155.9
186.4 156.1
190.2 157.5
190.8 156.8
192.8 157.5
196.3 156.8
200 156.8
182.6 155.7
183.3 168.2
184.7 168.2
185.8 168.2
187.5 168.2
188.9 168.2
190.9 168.2
192 167
193 167.7
199 169
200 168.2
188.9 164.8
190.9 165.2
192.6 164.8
196.5 163.7
199.2 163.8
200 164.8
185.3 162
186.4 164.1
189.3 163
183 163.9
188.9 171.2
192.2 171.2
194.6 170.2
195.7 171.4
193.9 173.3
197 173.7
200 175
200 172
};
\addplot[rdot] table {
169.2 198.8
189.5 197.9
178.2 197.7
179.5 197.7
151.9 196.5
154.4 196.1
160.7 196.1
181.4 196.1
187.5 196.1
171.4 194.3
180 194.3
164.7 193.3
147.2 193.1
183.9 193.1
145 190.9
174.4 190.9
191.5 190.9
192.4 190.9
160.7 189.3
174.9 189.3
180 189.9
135.2 186.5
164.6 185.8
168.8 186.5
175 185.8
168.8 185.7
168.7 184.8
156.1 184.8
173 184.8
179.1 182.1
173.3 177.3
167.4 168.2
149.2 149.2
};
\end{axis}
% Одеська
\begin{axis}[panel, at={(452.5pt,-506.75pt)}, yticklabels={}]
\band
\addplot[core] coordinates {(162.5,170) (166.5,174.5) (172,177) (180.1,182.7) (185.9,189) (193,192.6) (196,189.5) (193,180.2) (185.5,172) (177.3,170.5)} --cycle;
\addplot[core] coordinates {(128,150.5) (128,152) (140,153) (147,159) (155,160) (161,167) (171,167) (173,160) (170,155) (177,152) (177,150.5)} --cycle;
\addplot[gdot] table {
162 170
164 173
166 176
169 177.5
172 179
175 181
178 183
181 185
183 187
185 189.5
187 191
190 192.5
193 194
195 192
197 190
196 186
195 182
193 179
191 176
189 174
187 171.5
185 170.5
181 170
177 169.5
173 169.5
169 169.5
165 169.5
141 156
143 158
145 160
148 161
151 161.5
154 162
156 164
158 166
160 168.5
163 168.5
166 168.5
169 168.5
172 168.5
173 166
174 164
175 162
175 159
173 157
172 155
174 154
176 153
178 153
179 151
179 149.5
176 149
173 149
170 149
167 149
163 149
158 149
153 149
148 149
143 149
138 149
133 149
128 149
199 198.8
197.4 197.6
200 196.6
193.6 197
196.2 196.8
192.8 194.9
194.5 193.1
197.6 193.1
200 193.2
188.2 192.6
190 193
198.9 191.6
199.7 189.8
199.7 187.7
185.6 191.5
140 188.9
140 181.4
140 179.2
127 179.4
154.6 183.2
157.1 182.6
153.4 178.3
156.3 178.3
174.3 187.6
169.9 187.8
196.7 184.6
194.5 186.7
192 184.6
197 187.7
180 180.5
182 180.5
183.4 180.5
184.8 180.5
186.2 180.5
187.6 180.5
189 180.5
190.4 180.5
191.8 180.5
193.2 180.5
194.6 180.5
196 180.5
197.4 180.5
198.8 180.5
200 180.5
159 178.3
160.7 178.3
162.4 178.3
164.1 178.3
165.8 178.3
167.5 178.3
189.4 178.3
191.1 178.3
192.8 178.3
194.5 178.3
196.2 178.3
197.9 178.3
200 178.3
198.9 174.4
195.5 172.8
194 170.5
195.3 170.5
136 172.9
132.4 170.5
145 170.5
151 170.5
155 170.5
152.2 174.4
156 174.4
130 167.9
125.6 168
143.8 167.9
145.8 167.9
148.2 167.9
152.7 165.7
153.3 165.7
144.4 165.7
148.2 165.7
145.3 163.5
148.1 163.5
150.5 163.5
154.6 164.2
155.6 165
176 165
180 166
182 165.7
183.5 164
178 167.9
180.5 167.9
183 167.9
185 167.5
186.3 165.7
188 167.9
190 167.9
192 167.9
194 167.9
196.3 167.9
197.6 167.9
196.4 163.3
191 162.6
182 161.5
187.2 159.4
189 159.4
193.7 160
195 159.4
177 161.5
179 159.8
143.2 161.5
144.5 161.5
130 158.6
134 160
135.3 160.9
138 160.3
138 159
139.3 158
141.2 159.5
127 156
130 155.7
133 155.7
135.5 155.7
137.3 155.7
138.5 155.7
198.9 155.7
185.7 154.8
182 155.3
184 155.5
126 153.5
128 153.5
129 153.5
130 153.5
132 153.5
135 153.5
137 154
186.5 152.9
184.8 152
188.5 152
181 151.5
183 150.5
184 150.5
185.5 150.5
189.5 150.5
191.4 150.5
193 150.5
194 150.5
126 150
127 148
128 148
129.5 147.5
165 148
172 148
130 148
135 148
140 148
145 148
150 148
155 148
160 148
126.5 146
130 146
134 146
138 146
140 146
142 146
144 146
146 146
148 146
150 146
152 146
154 146
156 146
158 146
160 146
130 144
132 144
135 144
138 144
140 144
143 144
145 144
147 144
149 144
151 144
154.5 144
158 144
162 144
164 144
169 144
171 144
174 144
177 144
127 143
130 142
132 142
134 142
136 142
138 142
141 142
143 142
145 142
147 142
150 142
152 142
155 142
157 142
160 142
161.5 142
165 142
168 142
126 140
128 140
130 140
132 140
134 140
136 140
138 140
140 140
142 140
144 140
146 140
148 140
150 140
152 140
154 140
156 140
160 139
165 140
177 140
184 141
178 141.5
186 149
127 138
129 138
131 138
133 138
135 138
137 138
139 138
141 138
143 138
146 138
149 138
152 138
155 137.5
158.5 138
161 139
133 136.5
136 136.5
138 136.5
130 135
135 135
140 136
142 136
148 136
129 133.5
131 134
139.5 133.5
141 134
128 132
130.5 131.5
131.5 132
137 131
136.5 129
132 130
127 128
128.5 128.5
126 128
125 126
126 126.5
};
\addplot[rdot] table {
188.2 198.8
170.9 197.2
136.2 196.7
165 196.6
167.6 196.6
191.1 196.6
195 196.5
169.3 193.6
147.5 192.7
153.9 191.1
168.5 189.9
170.7 190.2
180.6 189.8
192.5 190.2
189.3 189.5
195.6 189.5
191.7 188.9
129 188.6
143.9 189.3
144.3 187.3
154.9 189.3
155.6 188.9
157.1 189.1
152.6 188.8
152.3 188.1
159.7 187.8
161 187.8
160.6 187
169.4 188.9
171.7 187.8
175.1 189
177.4 187.9
177.5 186.9
166.3 185.8
158.6 184.7
147.9 183.2
169.1 182.7
171.9 181.8
174.3 182.2
173.6 180.8
185.9 179.4
178.7 179
177.6 178.3
180.4 178.3
168.9 178.3
172.5 178.3
149.4 179.2
127.8 178.3
157.3 177.6
153.1 173
157.3 172.9
158.5 172.6
160.4 172.2
176.7 172.4
155.1 170.9
156.5 160
169.5 158.9
};
\end{axis}
\begin{scope}[x=0.25pt,y=-0.25pt]
\foreach \xc/\yc/\t in {658/557/Донецька область,1418/557/Луганська область,2178/557/Київ,658/1336/Харківська область,1418/1336/Львівська область,2178/1336/Одеська область}
  \node[anchor=base, inner sep=0pt, text=ink, font=\fontsize{13.5}{15}\selectfont] at (\xc,\yc) {\t};
\node[anchor=base west, inner sep=0pt, text=ink, font=\fontsize{16.75}{18}\selectfont\bfseries] at (270,117) {У МЕЖАХ РЕГІОНУ ВСТУПНИКИ З ОКУПОВАНИХ ТЕРИТОРІЙ};
\node[anchor=base west, inner sep=0pt, text=ink, font=\fontsize{16.75}{18}\selectfont\bfseries] at (270,203) {ОБИРАЮТЬ ЗІСТАВНІ З РІВНЕМ ЗНАНЬ КОНКУРСИ, ПОЗА НИМ —};
\node[anchor=base west, inner sep=0pt, text=ink, font=\fontsize{16.75}{18}\selectfont\bfseries] at (270,291) {З ВИСОКИМИ БАЛАМИ};
\node[anchor=base west, inner sep=0pt, text=ink, font=\fontsize{13.5}{15}\selectfont\bfseries] at (270,379) {Жовтим підсвічені пропозиції із середнім балом серед бюджетників 180+};
\draw[color=black!40, line width=0.6pt] (269,436) -- (2647,436);
\draw[color=ink, line width=0.8pt] (269,2254) -- (2647,2254);
\node[rotate=90, text=muted, font=\fontsize{10.55}{12}\selectfont] at (136,889) {середній бал (без пільговиків)};
\node[anchor=west, inner sep=0pt, text=muted, font=\fontsize{10.55}{12}\selectfont] at (292,2155) {конкурсний бал вступника};
\node[anchor=west, inner sep=0pt, text=ink, font=\fontsize{12.1}{14}\selectfont] at (270,2326) {Дані: ЄДЕБО};
\node[anchor=base east, inner sep=0pt, font=\fontsize{14.3}{16}\logofont] at (2633,2340) {\scalebox{0.85}[1]{\textbf{TEXTY}.ORG.UA}};
\end{scope}
\end{tikzpicture}
\end{document}
